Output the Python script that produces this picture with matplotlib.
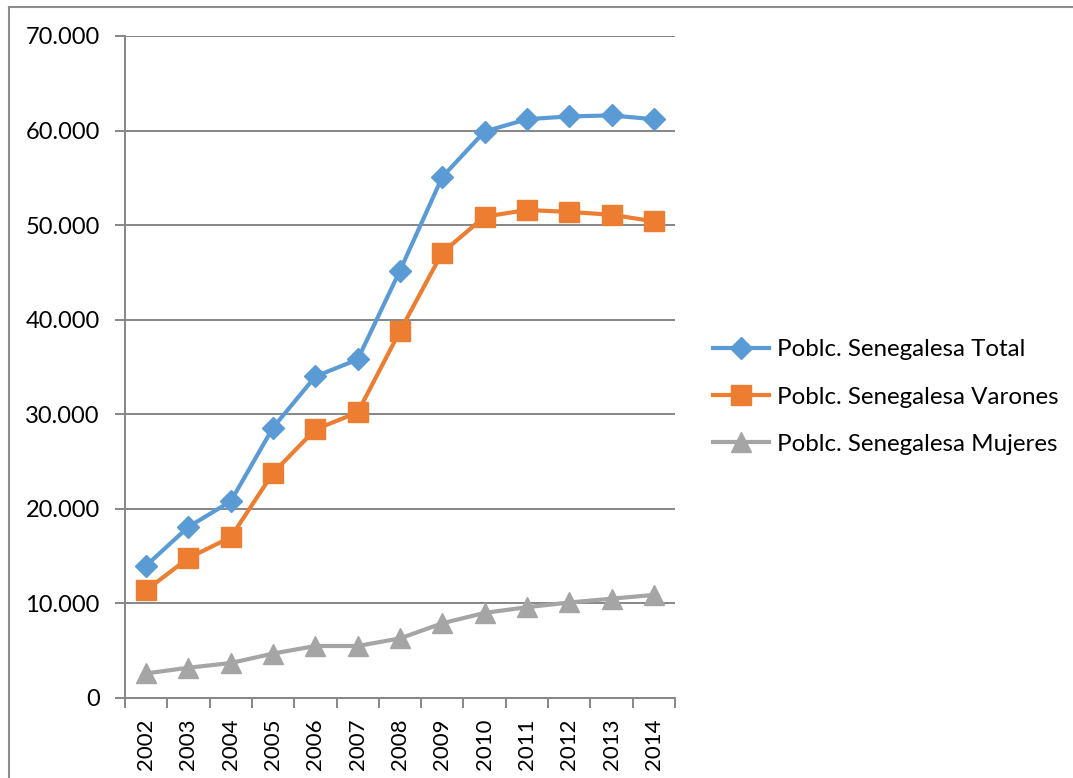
import numpy as np
import matplotlib
matplotlib.use("Agg")
import matplotlib.pyplot as plt
from matplotlib.ticker import FuncFormatter, FixedLocator
from matplotlib.lines import Line2D

plt.rcParams['font.family'] = ['Lato', 'DejaVu Sans']

years = ['2002', '2003', '2004', '2005', '2006', '2007', '2008',
         '2009', '2010', '2011', '2012', '2013', '2014']
total = [14000, 18100, 20800, 28600, 34000, 35800, 45200,
         55100, 59900, 61200, 61500, 61600, 61200]
varones = [11400, 14800, 17000, 23800, 28400, 30200, 38800,
           47100, 50900, 51600, 51400, 51100, 50400]
mujeres = [2600, 3200, 3700, 4700, 5500, 5500, 6300,
           7900, 9000, 9600, 10100, 10500, 10900]
series_names = ['Poblc. Senegalesa Total', 'Poblc. Senegalesa Varones',
                'Poblc. Senegalesa Mujeres']

W, H = 1073, 778
fig = plt.figure(figsize=(W / 100, H / 100), dpi=100)
ax = fig.add_axes([125 / W, 1 - 698 / H, 550 / W, 662 / H])

grid_c = '#868686'
x = np.arange(len(years))
ax.plot(x, total, color='#5B9BD5', lw=3, marker='D', ms=11.5, label=series_names[0], zorder=3)
ax.plot(x, varones, color='#ED7D31', lw=3, marker='s', ms=14, label=series_names[1], zorder=3)
ax.plot(x, mujeres, color='#A5A5A5', lw=3, marker='^', ms=14, label=series_names[2], zorder=3)

ax.set_xlim(-0.5, len(years) - 0.5)
ax.set_ylim(0, 70000)
ax.set_yticks(np.arange(0, 70001, 10000))
ax.yaxis.set_major_formatter(FuncFormatter(lambda v, p: '{:,.0f}'.format(v).replace(',', '.')))
ax.yaxis.grid(True, color=grid_c, lw=1.4)
ax.set_axisbelow(True)

ax.set_xticks(x)
ax.set_xticklabels(years, rotation=90)
ax.xaxis.set_minor_locator(FixedLocator(np.arange(-0.5, len(years), 1.0)))
ax.tick_params(axis='x', which='major', length=0, pad=15, labelsize=16)
ax.tick_params(axis='x', which='minor', length=7, width=1.4, color=grid_c)
ax.tick_params(axis='y', length=7.2, width=1.4, color=grid_c, pad=11, labelsize=17)

for s in ['top', 'right']:
    ax.spines[s].set_visible(False)
for s in ['left', 'bottom']:
    ax.spines[s].set_color(grid_c)
    ax.spines[s].set_linewidth(1.4)

fig.legend(loc='center left', bbox_to_anchor=(713 / W, 1 - 397 / H), frameon=False,
           fontsize=17.4, handlelength=2.3, handletextpad=0.35, labelspacing=1.08,
           borderpad=0, borderaxespad=0)

# outer chart-area border (top and left visible)
fig.add_artist(Line2D([9 / W, 9 / W], [0, 1 - 7 / H], color='#8c8c8c', lw=1.5))
fig.add_artist(Line2D([9 / W, 1], [1 - 7 / H, 1 - 7 / H], color='#8c8c8c', lw=1.5))

fig.savefig('out.png', dpi=100)
